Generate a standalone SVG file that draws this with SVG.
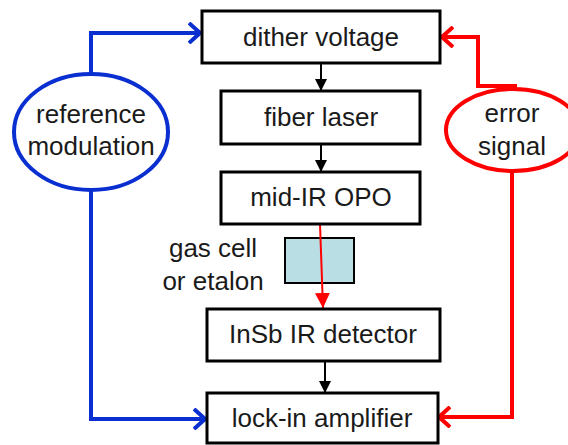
<svg xmlns="http://www.w3.org/2000/svg" width="568" height="445" viewBox="0 0 568 445">
<style>
.box{fill:#fff;stroke:#000;stroke-width:3}
.t{font-family:"Liberation Sans",Arial,sans-serif;font-size:26px;fill:#1a1a1a;text-anchor:middle}
.blue{fill:none;stroke:#0a2fd1;stroke-width:4}
.red{fill:none;stroke:#ff0000;stroke-width:4}
.blk{fill:none;stroke:#000;stroke-width:2}
</style>
<defs>
<marker id="ab" viewBox="0 0 14 22" refX="13" refY="11" markerWidth="14" markerHeight="22" markerUnits="userSpaceOnUse" orient="auto"><path d="M1,1 L12,11 L1,21" fill="none" stroke="#0a2fd1" stroke-width="4"/></marker>
<marker id="ar" viewBox="0 0 14 22" refX="13" refY="11" markerWidth="14" markerHeight="22" markerUnits="userSpaceOnUse" orient="auto"><path d="M1,1 L12,11 L1,21" fill="none" stroke="#ff0000" stroke-width="4"/></marker>
<marker id="ak" viewBox="0 0 12 12" refX="12" refY="6" markerWidth="12" markerHeight="12" markerUnits="userSpaceOnUse" orient="auto"><path d="M0,0 L12,6 L0,12 Z" fill="#000"/></marker>
<marker id="akr" viewBox="0 0 15 15" refX="15" refY="7.5" markerWidth="15" markerHeight="15" markerUnits="userSpaceOnUse" orient="auto"><path d="M0,0 L15,7.5 L0,15 Z" fill="#ff0000"/></marker>
</defs>
<g id="gascell"><rect x="285" y="238" width="69" height="45" fill="#b9dfe4" stroke="#000" stroke-width="2"/></g>
<g id="connectors">
<path class="blk" d="M321,63 V91" marker-end="url(#ak)"/>
<path class="blk" d="M321,144 V172" marker-end="url(#ak)"/>
<path class="blk" d="M325,361 V393" marker-end="url(#ak)"/>
<path d="M320,224 L323,308" fill="none" stroke="#ff0000" stroke-width="2" marker-end="url(#akr)"/>
<path class="blue" d="M91,74 V33 H201" marker-end="url(#ab)"/>
<path class="blue" d="M91,190 V419 H206" marker-end="url(#ab)"/>
<path class="red" d="M517,86 H478 V37 H441" marker-end="url(#ar)"/>
<path class="red" d="M512,170 V417 H438" marker-end="url(#ar)"/>
</g>
<g id="dither"><rect class="box" x="202" y="11" width="238" height="52"/><text class="t" x="321" y="46">dither voltage</text></g>
<g id="fiber"><rect class="box" x="221" y="91" width="199" height="53"/><text class="t" x="321" y="126">fiber laser</text></g>
<g id="opo"><rect class="box" x="221" y="172" width="199" height="52"/><text class="t" x="321" y="206">mid-IR OPO</text></g>
<g id="gaslabel"><text class="t" x="213" y="257">gas cell</text><text class="t" x="213" y="290">or etalon</text></g>
<g id="detector"><rect class="box" x="207" y="309" width="233" height="52"/><text class="t" x="323" y="343">InSb IR detector</text></g>
<g id="lockin"><rect class="box" x="207" y="393" width="231" height="50"/><text class="t" x="322" y="427">lock-in amplifier</text></g>
<g id="refmod"><ellipse cx="91" cy="132" rx="77" ry="58" fill="#fff" stroke="#0a2fd1" stroke-width="4"/><text class="t" x="91" y="123">reference</text><text class="t" x="91" y="155">modulation</text></g>
<g id="errsig"><ellipse cx="513" cy="130" rx="67" ry="41" fill="#fff" stroke="#ff0000" stroke-width="4"/><text class="t" x="512" y="122">error</text><text class="t" x="512" y="155">signal</text></g>
</svg>
